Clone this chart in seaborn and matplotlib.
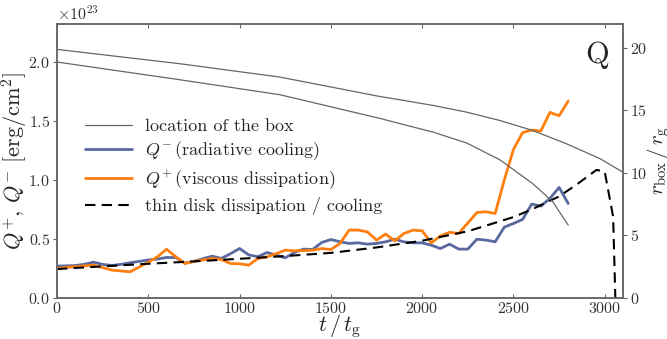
import numpy as np
import pandas as pd
import matplotlib
matplotlib.use("Agg")
import matplotlib.pyplot as plt
import seaborn as sns

# ---------------- data ----------------
t_sim = np.arange(0, 2801, 50)
q_minus = [0.270, 0.272, 0.275, 0.285, 0.303, 0.285, 0.275, 0.285, 0.298, 0.310,
           0.322, 0.330, 0.343, 0.343, 0.295, 0.310, 0.333, 0.354, 0.335, 0.375,
           0.419, 0.365, 0.349, 0.385, 0.363, 0.340, 0.385, 0.414, 0.411, 0.470,
           0.495, 0.476, 0.462, 0.467, 0.456, 0.462, 0.476, 0.498, 0.475, 0.467,
           0.467, 0.447, 0.419, 0.456, 0.414, 0.414, 0.498, 0.490, 0.476, 0.600,
           0.631, 0.665, 0.795, 0.778, 0.843, 0.936, 0.800]
q_plus = [0.250, 0.260, 0.265, 0.272, 0.278, 0.258, 0.236, 0.229, 0.222, 0.262,
          0.303, 0.349, 0.413, 0.350, 0.292, 0.310, 0.322, 0.334, 0.326, 0.292,
          0.290, 0.278, 0.334, 0.348, 0.375, 0.405, 0.400, 0.402, 0.405, 0.419,
          0.410, 0.462, 0.575, 0.575, 0.560, 0.490, 0.541, 0.484, 0.546, 0.575,
          0.569, 0.467, 0.525, 0.556, 0.546, 0.635, 0.724, 0.730, 0.716, 1.000,
          1.258, 1.400, 1.422, 1.414, 1.572, 1.543, 1.668]

t_thin = [0, 250, 500, 750, 1000, 1250, 1500, 1750, 2000, 2250, 2500, 2600,
          2750, 2850, 2955, 3000, 3046, 3058]
q_thin = [0.245, 0.268, 0.290, 0.310, 0.332, 0.355, 0.382, 0.428, 0.485, 0.565,
          0.685, 0.750, 0.860, 0.965, 1.085, 1.069, 0.687, 0.0]

t_box1 = [0, 670, 1220, 1770, 1880, 2060, 2245, 2425, 2605, 2790, 2975, 3100]
r_box1 = [19.87, 18.73, 17.66, 16.10, 15.84, 15.39, 14.85, 14.19, 13.39, 12.33,
          11.13, 10.05]
t_box2 = [0, 670, 1220, 1770, 1880, 2060, 2245, 2425, 2605, 2715, 2800]
r_box2 = [18.86, 17.45, 16.25, 14.35, 13.93, 13.26, 12.38, 11.05, 9.15, 7.70, 5.82]

SCALE = 1e23

# ---------------- style ----------------
sns.set_style("ticks")
plt.rcParams["font.family"] = ["cmr10", "DejaVu Serif"]
plt.rcParams["mathtext.fontset"] = "cm"
plt.rcParams["axes.formatter.use_mathtext"] = True
plt.rcParams["axes.unicode_minus"] = False

C_BLUE = "#5a68a0"
C_ORANGE = "#ff7f0e"
C_GRAY = "#666666"
C_SPINE = "#666666"

fig = plt.figure(figsize=(6.67, 3.39), dpi=100)
ax = fig.add_axes([57 / 667, 1 - 298 / 339, (623 - 57) / 667, (298 - 24) / 339])
ax2 = ax.twinx()

sns.lineplot(x=t_box1, y=r_box1, ax=ax2, color=C_GRAY, lw=0.9, label="location of the box")
sns.lineplot(x=t_box2, y=r_box2, ax=ax2, color=C_GRAY, lw=0.9)

sns.lineplot(x=t_sim, y=np.array(q_minus) * SCALE, ax=ax, color=C_BLUE, lw=2.0,
             label=r"$Q^{-}\,$(radiative cooling)")
sns.lineplot(x=t_sim, y=np.array(q_plus) * SCALE, ax=ax, color=C_ORANGE, lw=2.0,
             label=r"$Q^{+}\,$(viscous dissipation)")
sns.lineplot(x=t_thin, y=np.array(q_thin) * SCALE, ax=ax, color="black", lw=1.5,
             linestyle=(0, (5, 3)), label="thin disk dissipation / cooling")

ax.set_xlim(0, 3100)
ax.set_ylim(0, 2.32 * SCALE)
ax2.set_ylim(0, 21.9)
ax.set_xticks(np.arange(0, 3001, 500))
ax.set_yticks(np.arange(0, 2.01, 0.5) * SCALE)
ax2.set_yticks([0, 5, 10, 15, 20])

for a in (ax, ax2):
    for s in a.spines.values():
        s.set_color(C_SPINE)
        s.set_linewidth(1.1)
ax.tick_params(axis="x", which="both", direction="in", top=True, bottom=True,
               length=3, color=C_SPINE, labelsize=11.5, labelcolor="#333333", pad=2)
ax.tick_params(axis="y", direction="out", length=3, color=C_SPINE,
               labelsize=11.5, labelcolor="#333333", pad=2)
ax2.tick_params(axis="y", direction="out", length=3, color=C_SPINE,
                labelsize=11.5, labelcolor="#333333", pad=2)
ax.yaxis.get_offset_text().set_fontsize(11.5)
ax.yaxis.get_offset_text().set_color("#333333")

ax.set_xlabel(r"$t\,/\,t_{\rm g}$", fontsize=16, labelpad=-2.5)
ax.set_ylabel(r"$Q^{+},\, Q^{-}\ [{\rm erg/cm^2}]$", fontsize=16, labelpad=-1.5)
ax2.set_ylabel(r"$r_{\rm box}\,/\,r_{\rm g}$", fontsize=15, labelpad=-1.5)

ax.text(0.955, 0.885, "Q", transform=ax.transAxes, fontsize=22,
        ha="center", va="center")

h1, l1 = ax.get_legend_handles_labels()
h2, l2 = ax2.get_legend_handles_labels()
if ax2.get_legend() is not None:
    ax2.get_legend().remove()
leg = ax.legend(h2 + h1, l2 + l1, loc="upper left", frameon=False, fontsize=13,
                bbox_to_anchor=(0.02, 0.715), handlelength=2.6, labelspacing=0.32,
                handletextpad=0.75)

fig.savefig("out.png", dpi=100)
